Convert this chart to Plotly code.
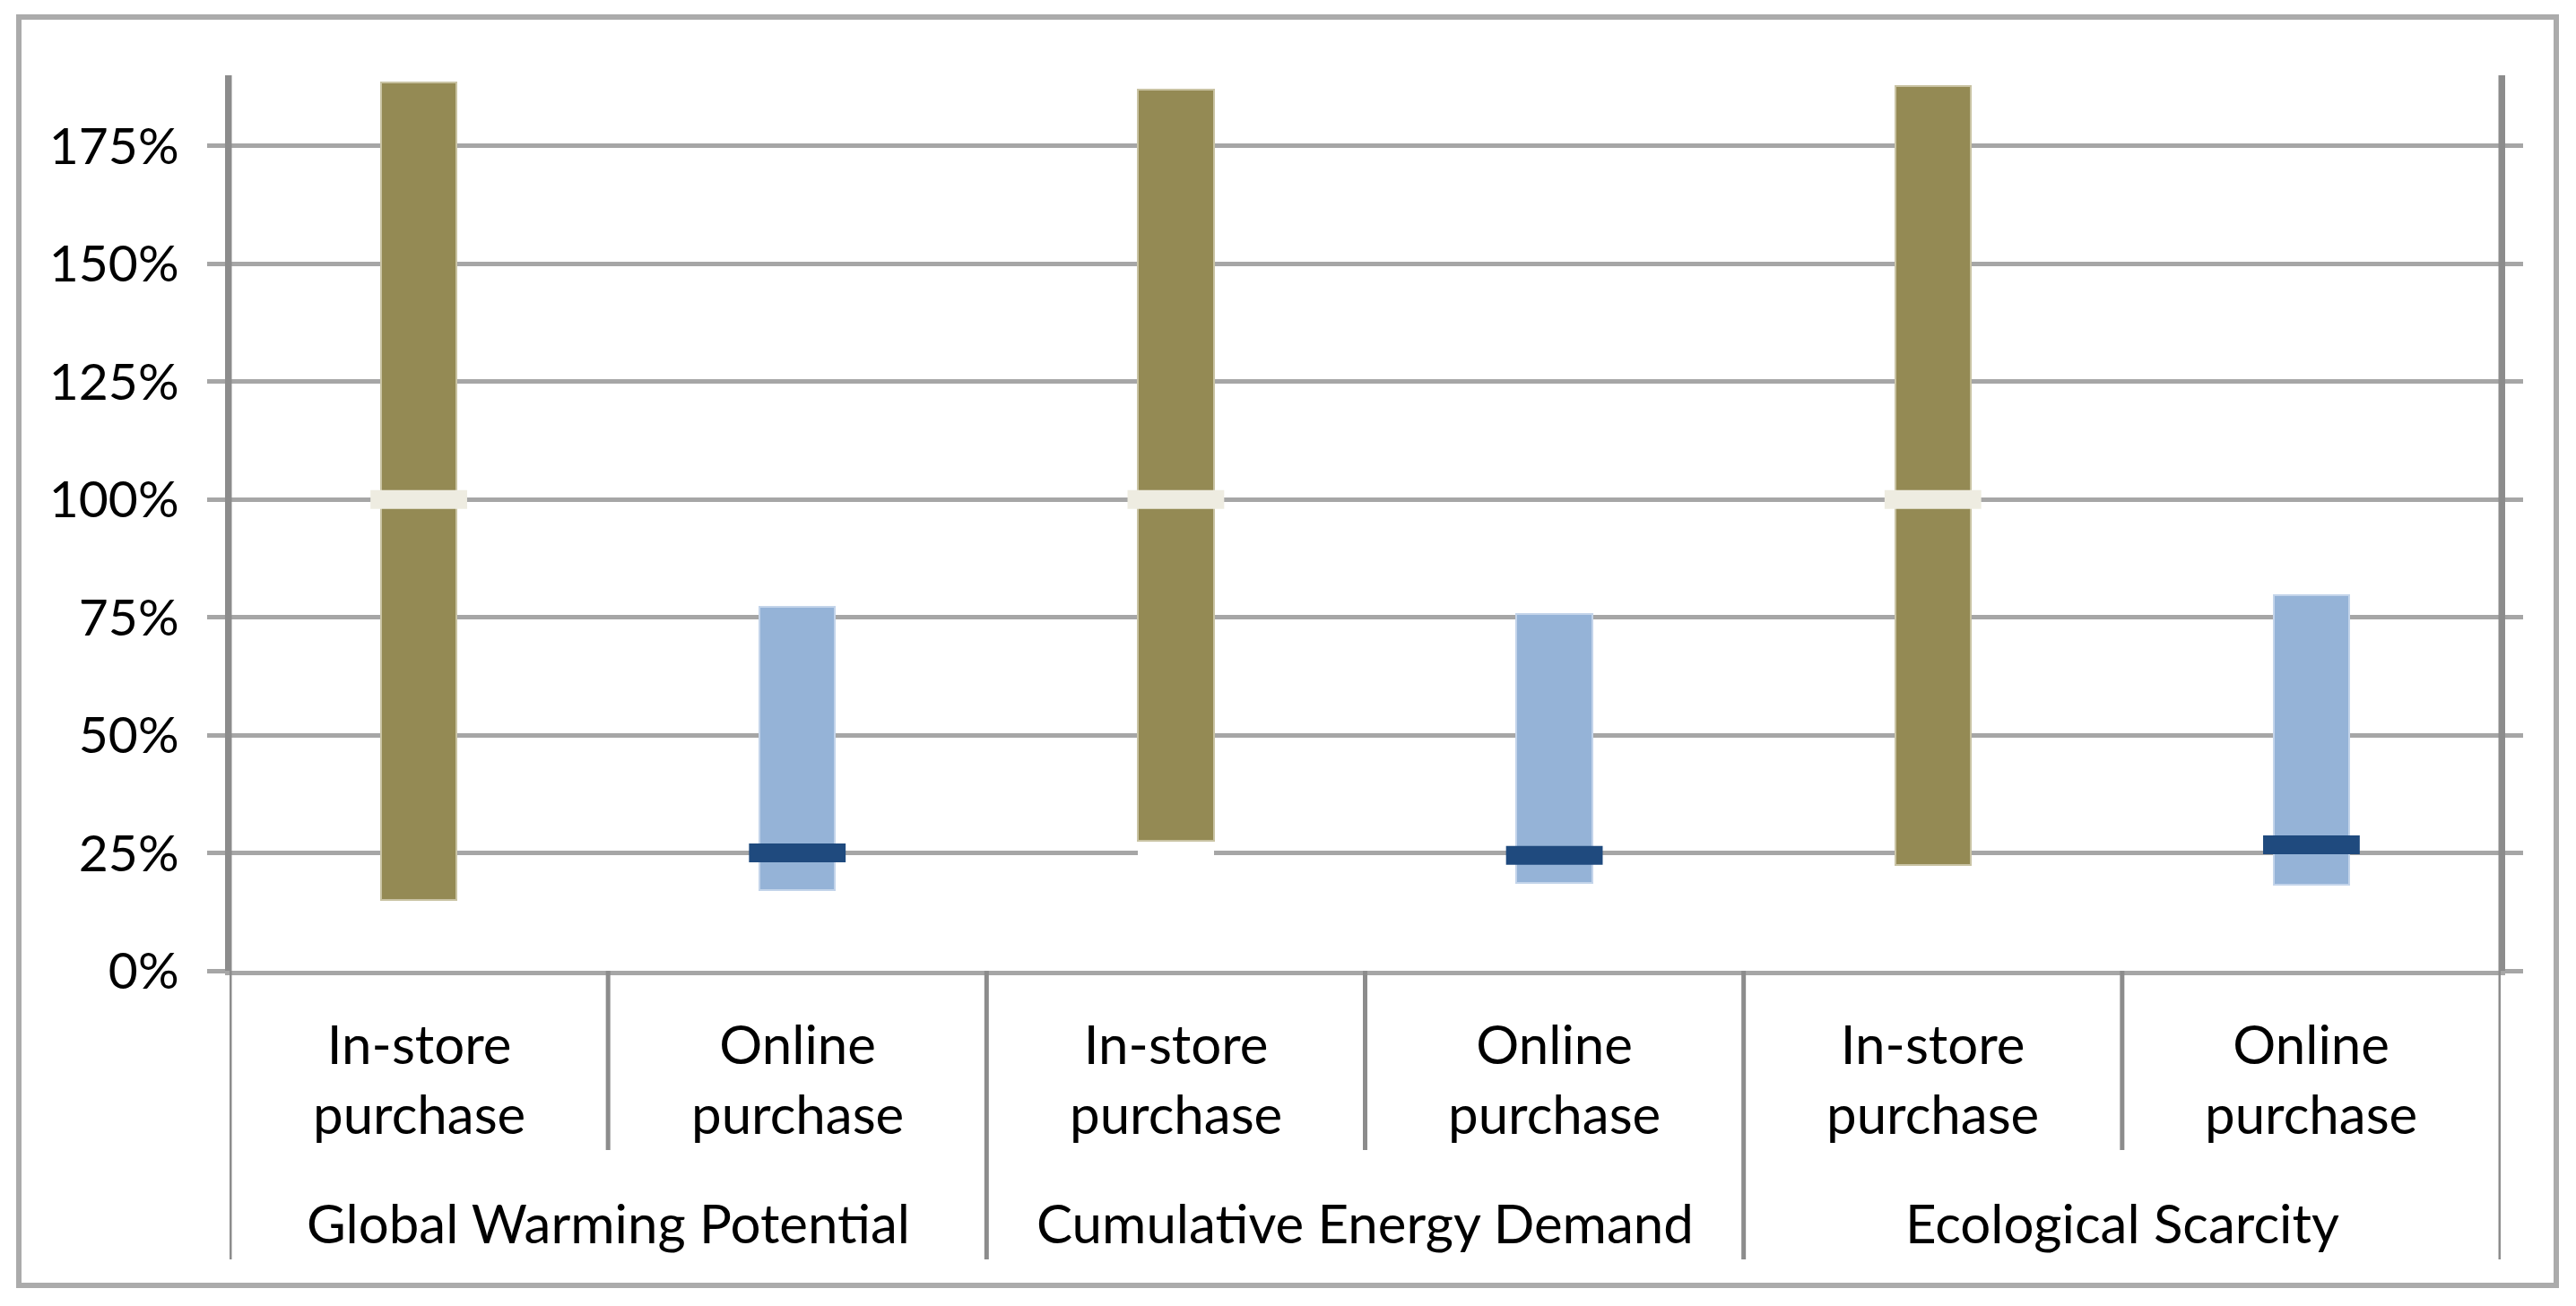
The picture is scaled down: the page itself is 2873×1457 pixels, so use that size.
import plotly.graph_objects as go

# data (percent)
groups = ["Global Warming Potential", "Cumulative Energy Demand", "Ecological Scarcity"]
purchase_types = ["In-store<br>purchase", "Online<br>purchase"]

instore_low = [15.0, 27.5, 22.5]
instore_high = [188.5, 187.0, 187.8]
instore_mid = [100.0, 100.0, 100.0]

online_low = [17.2, 18.6, 18.3]
online_high = [77.3, 75.7, 79.7]
online_mid = [25.0, 24.5, 26.7]

y_ticks = [0, 25, 50, 75, 100, 125, 150, 175]
y_tick_labels = [f"{v}%" for v in y_ticks]

# page geometry (px)
FIG_W, FIG_H = 2873, 1457
PLOT_L, PLOT_R = 256, 2789
PLOT_T, PLOT_B = 84, 1083

OLIVE = "#948A54"
LIGHT_BLUE = "#95B3D7"
DARK_BLUE = "#1F4A7E"
CREAM = "#EEECE1"
GRID = "#A6A6A6"
DIVIDER = "#8C8C8C"
FONT = dict(family="Lato, sans-serif", size=60, color="#000000")
TICK_FONT = dict(family="Lato, sans-serif", size=57, color="#000000")


def px_x(px):
    return (px - PLOT_L) / (PLOT_R - PLOT_L)


def px_y(py):
    return (PLOT_B - py) / (PLOT_B - PLOT_T)


n_types = len(purchase_types)
x_instore = [i * n_types for i in range(len(groups))]
x_online = [i * n_types + 1 for i in range(len(groups))]
n_cats = len(groups) * n_types

fig = go.Figure()

# white base segments (they hide the gridlines below each range, as in the original)
fig.add_trace(go.Bar(x=x_instore + x_online, y=instore_low + online_low, base=0,
                     width=0.2, marker=dict(color="white", line=dict(width=0)),
                     hoverinfo="skip", showlegend=False))

fig.add_trace(go.Bar(x=x_instore, y=[h - l for h, l in zip(instore_high, instore_low)],
                     base=instore_low, width=0.2, name="In-store purchase",
                     marker=dict(color=OLIVE, line=dict(color="#C9C3A3", width=2)),
                     showlegend=False))
fig.add_trace(go.Bar(x=x_online, y=[h - l for h, l in zip(online_high, online_low)],
                     base=online_low, width=0.2, name="Online purchase",
                     marker=dict(color=LIGHT_BLUE, line=dict(color="#C3D4EA", width=2)),
                     showlegend=False))

fig.add_trace(go.Scatter(x=x_instore, y=instore_mid, mode="markers", showlegend=False,
                         marker=dict(symbol="line-ew", size=77,
                                     line=dict(color=CREAM, width=21))))
fig.add_trace(go.Scatter(x=x_online, y=online_mid, mode="markers", showlegend=False,
                         marker=dict(symbol="line-ew", size=77,
                                     line=dict(color=DARK_BLUE, width=21))))

shapes = []
# vertical separators of the two-level category axis
for k in range(n_cats + 1):
    xb = k - 0.5
    if k in (0, n_cats):
        y0, y1 = 1.0, px_y(1405)
    elif k % n_types == 0:
        y0, y1 = 0.0, px_y(1405)
    else:
        y0, y1 = 0.0, px_y(1283)
    shapes.append(dict(type="line", xref="x", yref="paper", x0=xb, x1=xb, y0=y0, y1=y1,
                       line=dict(color=DIVIDER, width=5)))
# chart frame
shapes.append(dict(type="rect", xref="paper", yref="paper",
                   x0=px_x(21), x1=px_x(2851), y0=px_y(1434), y1=px_y(19),
                   line=dict(color="#ABABAB", width=6), fillcolor="rgba(0,0,0,0)"))

annotations = []
for i, g in enumerate(groups):
    for j, t in enumerate(purchase_types):
        annotations.append(dict(x=i * n_types + j, xref="x", y=px_y(1203), yref="paper",
                                text=t, showarrow=False, font=FONT,
                                xanchor="center", yanchor="middle"))
    annotations.append(dict(x=i * n_types + (n_types - 1) / 2, xref="x", y=px_y(1364),
                            yref="paper", text=g, showarrow=False, font=FONT,
                            xanchor="center", yanchor="middle"))

fig.update_layout(
    width=FIG_W, height=FIG_H,
    margin=dict(l=PLOT_L, r=FIG_W - PLOT_R, t=PLOT_T, b=FIG_H - PLOT_B),
    paper_bgcolor="white", plot_bgcolor="white",
    barmode="overlay", bargap=0,
    font=FONT,
    xaxis=dict(range=[-0.5, n_cats - 0.5], showticklabels=False, showgrid=False,
               zeroline=False, showline=True, linecolor=GRID, linewidth=5,
               ticks="", fixedrange=True),
    yaxis=dict(range=[0, 190], tickmode="array", tickvals=y_ticks, ticktext=y_tick_labels,
               showgrid=True, gridcolor=GRID, gridwidth=5, zeroline=False,
               ticks="outside", ticklen=20, tickwidth=5, tickcolor=GRID,
               showline=True, linecolor=DIVIDER, linewidth=5, mirror="ticks",
               ticklabelstandoff=20, tickfont=TICK_FONT, fixedrange=True),
    shapes=shapes,
    annotations=annotations,
)

fig.write_html("out.html", config={"displayModeBar": False},
               post_script="document.body.style.margin='0';")
